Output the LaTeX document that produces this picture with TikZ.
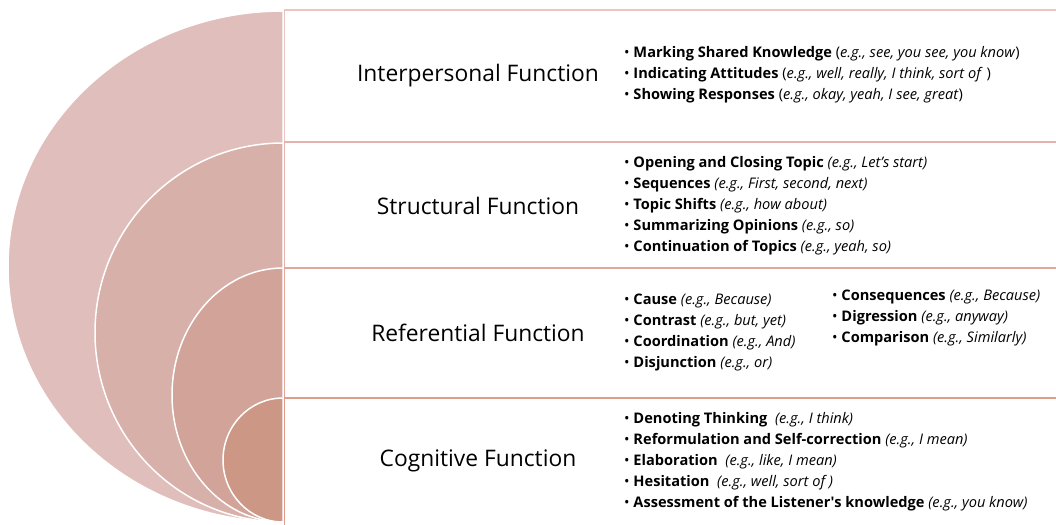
\documentclass[tikz,border=0pt]{standalone}
\usepackage{fontspec}
\setmainfont{Open Sans}
\usepackage{tikz}
\usetikzlibrary{positioning}
\usepackage{xcolor}
\definecolor{discA}{RGB}{224,190,188}
\definecolor{discB}{RGB}{216,176,170}
\definecolor{discC}{RGB}{210,163,152}
\definecolor{discD}{RGB}{204,151,132}
\definecolor{rimA}{RGB}{236,196,193}
\definecolor{rimB}{RGB}{230,178,172}
\definecolor{rimC}{RGB}{226,166,155}
\definecolor{rimD}{RGB}{222,156,138}
\newcommand{\bul}[2]{\textbullet\ \textbf{#1} #2}

\begin{document}
\begin{tikzpicture}[x=1pt,y=-1pt,
    title/.style={font=\fontsize{22.8}{27}\selectfont, inner sep=0pt},
    list/.style={font=\fontsize{14.6}{21}\selectfont, align=left, inner sep=0pt, anchor=west}]
    \useasboundingbox (0,0) rectangle (1056,524);
    % nested half discs, all touching at the bottom
    \foreach \top/\rx/\col in {11/275/discA, 143/188/discB, 268/111/discC, 398/60/discD}
        \filldraw[fill=\col, draw=white, line width=1.5pt] (283,\top)
            arc[start angle=270, end angle=90, x radius=\rx, y radius={(522-\top)/2}] -- cycle;
    % one box per function
    \foreach \top/\bot/\col in {10/142/rimA, 142/268/rimB, 268/398/rimC, 398/530/rimD}
        \draw[\col, line width=1.8pt] (284.5,\top) rectangle (1060,\bot);

    \node[title] (inter) at (478,76) {Interpersonal Function};
    \node[title] (struct) at (478,206) {Structural Function};
    \node[title] (refer) at (478,333) {Referential Function};
    \node[title] (cogn) at (478,461) {Cognitive Function};

    \node[list] (interlist) at (624,75) {%
        \bul{Marking Shared Knowledge}{(\textit{e.g., see, you see, you know})}\\
        \bul{Indicating Attitudes}{(\textit{e.g., well, really, I think, sort of} )}\\
        \bul{Showing Responses}{(\textit{e.g., okay, yeah, I see, great})}};
    \node[list] (structlist) at (624,206) {%
        \bul{Opening and Closing Topic}{\textit{(e.g., Let’s start)}}\\
        \bul{Sequences}{\textit{(e.g., First, second, next)}}\\
        \bul{Topic Shifts}{\textit{(e.g., how about)}}\\
        \bul{Summarizing Opinions}{\textit{(e.g., so)}}\\
        \bul{Continuation of Topics}{\textit{(e.g., yeah, so)}}};
    \node[list] (referlist) at (624,332) {%
        \bul{Cause}{\textit{(e.g., Because)}}\\
        \bul{Contrast}{\textit{(e.g., but, yet)}}\\
        \bul{Coordination}{\textit{(e.g., And)}}\\
        \bul{Disjunction}{\textit{(e.g., or)}}};
    \node[list] (referlist2) at (832,318) {%
        \bul{Consequences}{\textit{(e.g., Because)}}\\
        \bul{Digression}{\textit{(e.g., anyway)}}\\
        \bul{Comparison}{\textit{(e.g., Similarly)}}};
    \node[list] (cognlist) at (624,462) {%
        \bul{Denoting Thinking}{\ \textit{(e.g., I think)}}\\
        \bul{Reformulation and Self-correction}{\textit{(e.g., I mean)}}\\
        \bul{Elaboration}{\ \textit{(e.g., like, I mean)}}\\
        \bul{Hesitation}{\ \textit{(e.g., well, sort of )}}\\
        \bul{Assessment of the Listener\textquotesingle s knowledge}{\textit{(e.g., you know)}}};
\end{tikzpicture}
\end{document}
